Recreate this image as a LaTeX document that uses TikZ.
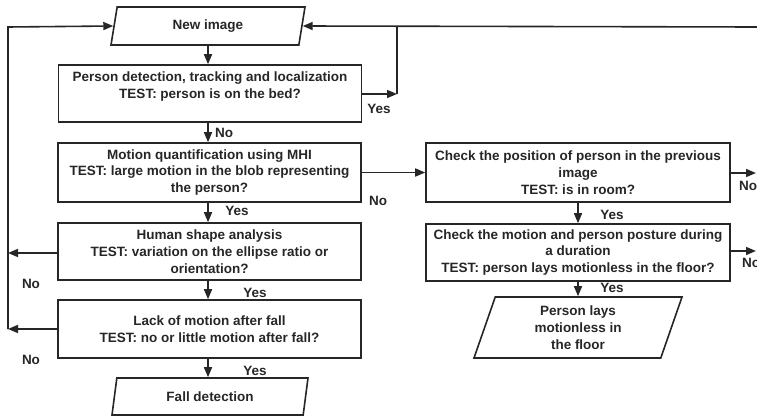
\documentclass[tikz,border=0pt]{standalone}
\usepackage{fontspec}
\setmainfont{Liberation Sans}
\usetikzlibrary{arrows.meta,shapes.geometric}
\definecolor{ink}{RGB}{38,38,38}
\begin{document}
\begin{tikzpicture}[x=1pt,y=-1pt,
  every node/.style={font=\fontsize{13.5}{16.8}\selectfont\bfseries, text=ink},
  box/.style={draw=ink, line width=1.6pt, rectangle, inner sep=0pt, align=center, minimum width=303pt},
  para/.style={draw=ink, line width=1.6pt, trapezium, trapezium left angle=64, trapezium right angle=116,
    trapezium stretches body=true, inner sep=0pt, align=center},
  conn/.style={draw=ink, line width=1.6pt},
  arr/.style={conn, -{Triangle[length=10pt,width=8pt]}},
  lbl/.style={inner sep=0pt}
]
\useasboundingbox (0,0) rectangle (757,417);
\begin{scope}
\clip (0,0) rectangle (757,417);

% start
\node[para, minimum width=194pt, minimum height=38pt] (new) at (208,26) {New image};

% left column
\node[box, minimum height=57pt] (b1) at (210,93.5) {};
\node[lbl, align=center] (b1t) at (210,86.5) {Person detection, tracking and localization\\TEST: person is on the bed?};
\node[box, minimum height=59pt] (b2) at (209.5,172.5) {Motion quantification using MHI\\TEST: large motion in the blob representing\\the person?};
\node[box, minimum height=57pt] (b3) at (209.5,251.5) {Human shape analysis\\TEST: variation on the ellipse ratio or\\orientation?};
\node[box, minimum height=58pt] (b4) at (209.5,329) {Lack of motion after fall\\TEST: no or little motion after fall?};
\node[para, minimum width=196pt, minimum height=37pt] (fall) at (210,396.5) {Fall detection};

% right column
\node[box, minimum width=304pt, minimum height=59pt] (b5) at (578,172.5) {Check the position of person in the previous\\image\\TEST: is in room?};
\node[box, minimum width=304pt, minimum height=57pt] (b6) at (578,252.5) {Check the motion and person posture during\\a duration\\TEST: person lays motionless in the floor?};
\node[para, minimum width=208pt, minimum height=61pt] (lay) at (578,327.5) {Person lays\\motionless in\\the floor};

% coordinates
\coordinate (ctopR) at (757,27);
\coordinate (cyes) at (397,94);
\coordinate (cyesTop) at (397,27);
\coordinate (cL3) at (8,253);
\coordinate (cL4) at (8,329);
\coordinate (cLtop) at (8,27);
\coordinate (cR5) at (756,173);
\coordinate (cR6) at (756,251);

% vertical flow
\draw[arr] (new.south) -- (b1.north -| new.south);
\draw[arr] (b1.south -| new.south) -- (b2.north -| new.south);
\draw[arr] (b2.south -| new.south) -- (b3.north -| new.south);
\draw[arr] (b3.south -| new.south) -- (b4.north -| new.south);
\draw[arr] (b4.south -| new.south) -- (fall.north -| new.south);
\draw[arr] (b5.south) -- (b6.north);
\draw[arr] (b6.south) -- (lay.north);

% loops back to new image
\draw[arr] (ctopR) -- (new.east);
\draw[arr] (b1.east |- cyes) -- (cyes);
\draw[conn] (cyes) -- (cyesTop);
\draw[arr] (b3.west |- cL3) -- (cL3);
\draw[arr] (b4.west |- cL4) -- (cL4);
\draw[arr] (cL4) -- (cLtop) -- (new.west);

% to right column
\draw[arr] (b2.east) -- (b5.west);
\draw[arr] (b5.east |- cR5) -- (cR5);
\draw[arr] (b6.east |- cR6) -- (cR6);

% labels
\node[lbl] (lyes1) at (379,109) {Yes};
\node[lbl] (lno1) at (224,133) {No};
\node[lbl] (lno2) at (378,201) {No};
\node[lbl] (lyes2) at (237,211) {Yes};
\node[lbl] (lno3) at (31,284) {No};
\node[lbl] (lyes3) at (255,293) {Yes};
\node[lbl] (lno4) at (31,360) {No};
\node[lbl] (lyes4) at (255,371) {Yes};
\node[lbl] (lyes5) at (612,215) {Yes};
\node[lbl] (lyes6) at (612,288) {Yes};
\node[lbl, anchor=west] (lno5) at (739,186) {No};
\node[lbl, anchor=west] (lno6) at (742,263) {No};
\end{scope}
\end{tikzpicture}
\end{document}
